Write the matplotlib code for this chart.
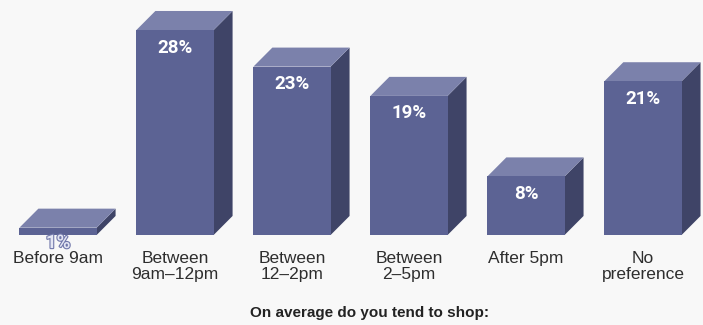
import matplotlib
matplotlib.use("Agg")
import matplotlib.pyplot as plt
from matplotlib.patches import Polygon, Rectangle
import matplotlib.patheffects as pe

# Shopping time preferences (% of respondents)
categories = ["Before 9am", "Between\n9am\u201312pm", "Between\n12\u20132pm",
              "Between\n2\u20135pm", "After 5pm", "No\npreference"]
shares = [1, 28, 23, 19, 8, 21]
value_labels = ["1%", "28%", "23%", "19%", "8%", "21%"]

FRONT = "#5c6394"
TOP = "#7b81ab"
SIDE = "#3f4467"
BG = "#f8f8f8"

BAR_W = 0.66      # front face width, in category units
DEPTH_X = 0.162   # 3D offset to the right
DEPTH_Y = 2.6     # 3D offset upwards, in percent units

fig = plt.figure(figsize=(7.03, 3.25), dpi=100, facecolor=BG)
ax = fig.add_axes([0, 90 / 325, 1, 235 / 325])
ax.set_facecolor(BG)
ax.set_xlim(-0.496, 5.513)
ax.set_ylim(0, 32.1)
ax.axis("off")

for i, (cat, v, lab) in enumerate(zip(categories, shares, value_labels)):
    x0 = i - BAR_W / 2
    x1 = i + BAR_W / 2
    # side face
    ax.add_patch(Polygon([(x1, 0), (x1 + DEPTH_X, DEPTH_Y), (x1 + DEPTH_X, v + DEPTH_Y), (x1, v)],
                         closed=True, facecolor=SIDE, edgecolor="none", clip_on=False))
    # top face
    ax.add_patch(Polygon([(x0, v), (x1, v), (x1 + DEPTH_X, v + DEPTH_Y), (x0 + DEPTH_X, v + DEPTH_Y)],
                         closed=True, facecolor=TOP, edgecolor="none", clip_on=False))
    # front face
    ax.add_patch(Rectangle((x0, 0), BAR_W, v, facecolor=FRONT, edgecolor="none", clip_on=False))

    if v >= 5:
        ax.text(i, v - 2.4, lab, ha="center", va="center", color="white",
                fontsize=13.5, fontweight="bold", family="Roboto")
    else:
        ax.text(i, -1.1, lab, ha="center", va="center", color="#e4e6f3",
                fontsize=13.5, fontweight="bold", family="Roboto",
                path_effects=[pe.withStroke(linewidth=1.6, foreground="#7077aa")])

    ax.annotate(cat, xy=(i, 0), xytext=(0, -11.5), textcoords="offset points",
                ha="center", va="top", fontsize=12.5, color="#2e2e2e",
                family="Liberation Sans", linespacing=1.1, annotation_clip=False)

fig.text(370 / 703, 12 / 325, "On average do you tend to shop:", ha="center", va="center",
         fontsize=11, fontweight="bold", color="#222222", family="Liberation Sans")

fig.savefig("out.png", dpi=100, facecolor=BG)
